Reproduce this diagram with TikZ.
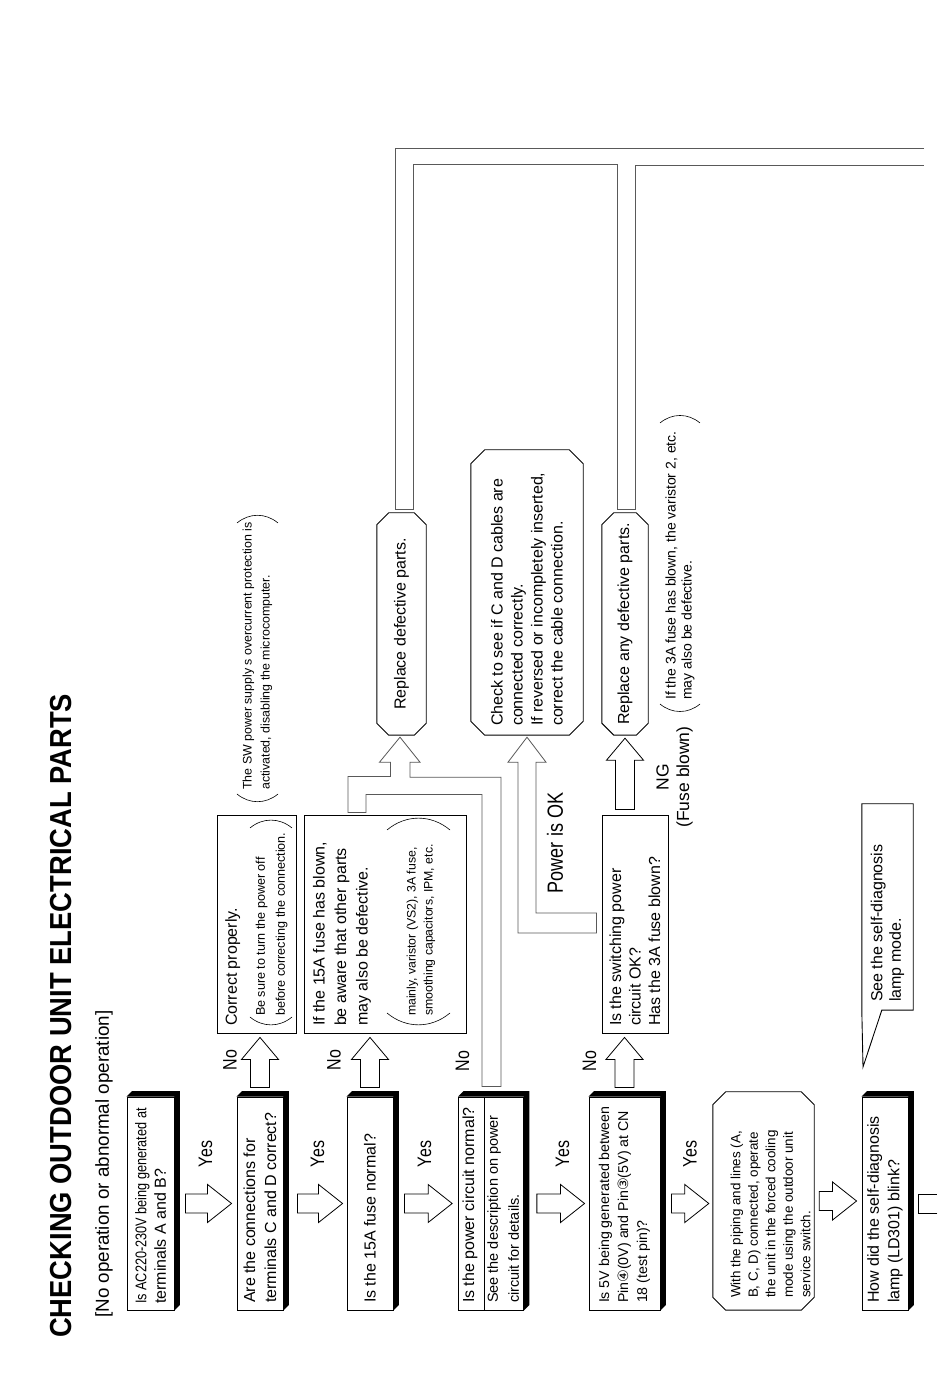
\documentclass[tikz,border=0pt]{standalone}
\usepackage{fontspec}
\setmainfont{Liberation Sans}
\newfontfamily\narrowfont[FakeStretch=0.82]{Liberation Sans}
\newfontfamily\titlefont[FakeStretch=0.9]{Liberation Sans}
\newfontfamily\circfont{DejaVu Sans}
\usetikzlibrary{shapes.multipart,calc,positioning}
\newcommand\fsz[2]{\fontsize{#1}{#2}\selectfont}
\newcommand\oneline[1]{\mbox{#1}}
\tikzset{
  qbox/.style={draw, fill=white, rotate=90, line width=.9pt, minimum width=213pt, inner xsep=7pt, inner ysep=0pt, align=flush left, text width=199pt, font=\fsz{16}{21}},
  abox/.style={draw, fill=white, rotate=90, line width=.9pt, minimum width=218pt, inner xsep=7pt, inner ysep=0pt, align=flush left, text width=204pt, font=\fsz{16}{21.5}},
  obox/.style={rotate=90, inner xsep=9pt, inner ysep=0pt, font=\fsz{16}{20}},
  lbl/.style={rotate=90, inner sep=0pt, font=\narrowfont\fsz{19.5}{22}},
  note/.style={rotate=90, inner sep=0pt, align=flush left},
  hollow/.style={draw=black, fill=white, line width=.8pt, line join=miter},
  strip/.style={draw=black!65, line width=.8pt, line join=miter},
  parc/.style={line width=.6pt}
}
\newcommand\boxshadow[1]{\fill (#1.north east) -- ($(#1.north east)+(5.5,5.5)$) -- ($(#1.south east)+(5.5,5.5)$) -- ($(#1.south west)+(5.5,5.5)$) -- (#1.south west) -- (#1.south east) -- cycle;}
\newcommand\octo[2]{\draw[line width=.9pt] ($(#1.north west)+(#2,0)$) -- ($(#1.south west)+(-#2,0)$) -- ($(#1.south west)+(0,#2)$) -- ($(#1.south east)+(0,-#2)$) -- ($(#1.south east)+(-#2,0)$) -- ($(#1.north east)+(#2,0)$) -- ($(#1.north east)+(0,-#2)$) -- ($(#1.north west)+(0,#2)$) -- cycle;}
\newcommand\rightarr[2]{\draw[hollow] let \p1=#1, \p2=#2 in (\x1,\y1-9.5pt) -- (\x2-24pt,\y1-9.5pt) -- (\x2-24pt,\y1-19pt) -- (\x2,\y1) -- (\x2-24pt,\y1+19pt) -- (\x2-24pt,\y1+9.5pt) -- (\x1,\y1+9.5pt) -- cycle;}
\newcommand\uparr[2]{\draw[hollow] let \p1=#1, \p2=#2 in (\x1-9.5pt,\y1) -- (\x1-9.5pt,\y2-22pt) -- (\x1-18.5pt,\y2-22pt) -- (\x1,\y2) -- (\x1+18.5pt,\y2-22pt) -- (\x1+9.5pt,\y2-22pt) -- (\x1+9.5pt,\y1) -- cycle;}

\begin{document}
\begin{tikzpicture}[x=1pt,y=1pt]
\fill[white] (0,0) rectangle (950,1379);
\useasboundingbox (0,0) rectangle (950,1379);

\node[rotate=90, anchor=west, inner sep=0pt, font=\titlefont\bfseries\fsz{30.4}{34}] (title) at (61,41) {CHECKING OUTDOOR UNIT ELECTRICAL PARTS};
\node[rotate=90, anchor=west, inner sep=0pt, font=\fsz{18.8}{22}] (sub) at (104,61) {[No operation or abnormal operation]};

\node[qbox, minimum height=47pt, inner xsep=6pt, text width=201pt, font=\fsz{16}{19.5}] (qa) at (150.5,175.5) {\oneline{\narrowfont\fsz{15.5}{19.5}Is AC220-230V being generated at}\\terminals A and B?};
\node[qbox, minimum height=46pt] (qb) at (260,175.5) {Are the connections for\\\oneline{terminals C and D correct?}};
\node[qbox, minimum height=46pt] (qc) at (370,175.5) {Is the 15A fuse normal?};
\node[qbox, rectangle split, rectangle split parts=2, inner ysep=1pt] (qd) at (491,175.5) {\rule[-9pt]{0pt}{23pt}\oneline{Is the power circuit normal?}\nodepart{two}\fsz{14.5}{17}\rule{0pt}{12pt}\oneline{See the description on power}\\circuit for details.\rule[-3pt]{0pt}{0pt}};
\node[qbox, minimum height=71pt, font=\fsz{14.2}{19}] (qe) at (624.5,175.5) {\oneline{Is 5V being generated between}\\\oneline{Pin{\circfont ④}(0V) and Pin{\circfont ③}(5V) at CN}\\18 (test pin)?};
\node[obox, minimum width=218pt, minimum height=101pt, inner xsep=12pt, text width=194pt, align=flush left, font=\fsz{13.4}{17.5}] (qf) at (763.5,178) {\rule{0pt}{24pt}With the piping and lines (A,\\\oneline{B, C, D) connected, operate}\\\oneline{the unit in the forced cooling}\\mode using the outdoor unit\\service switch.};
\node[qbox, minimum height=46pt, font=\fsz{16}{20.5}] (qg) at (885,175.5) {How did the self-diagnosis\\lamp (LD301) blink?};
\boxshadow{qa}
\boxshadow{qb}
\boxshadow{qc}
\boxshadow{qd}
\boxshadow{qe}
\boxshadow{qg}
\octo{qf}{13}

\node[abox, minimum height=79pt, font=\fsz{16}{20}] (nb) at (256.5,455) {Correct properly.\\[8pt]{\fsz{12.6}{20}\hspace*{10pt}Be sure to turn the power off\\\hspace*{10pt}\oneline{before correcting the connection.}}};
\node[abox, minimum height=162pt] (nc) at (385,455) {\oneline{If the 15A fuse has blown,}\\\oneline{be aware that other parts}\\may also be defective.\\[26.5pt]{\fsz{12.3}{21.5}\hspace*{10pt}\oneline{mainly, varistor (VS2), 3A fuse,}\\[-4.5pt]\hspace*{10pt}\oneline{smoothing capacitors, IPM, etc.}}\\[3pt]\mbox{}};
\node[abox, minimum height=66pt, font=\fsz{16}{19.5}] (ne) at (635,455) {Is the switching power\\circuit OK?\\\oneline{Has the 3A fuse blown?}};
\node[obox, minimum width=206pt, minimum height=51pt, inner xsep=8pt, text width=190pt, align=flush left, font=\fsz{16}{18.5}] (lamp) at (887.5,472) {See the self-diagnosis\\lamp mode.};
\coordinate (lamptip) at (863,312);
\draw[line width=.9pt] (lamp.north west) -- (lamptip) -- ($(lamp.north west)+(20,0)$) -- (lamp.south west) -- (lamp.south east) -- (lamp.north east) -- cycle;

\node[obox, minimum width=222pt, minimum height=49pt, align=center] (r1) at (401.5,755) {Replace defective parts.};
\node[obox, minimum width=285pt, minimum height=112pt, text width=267pt, align=flush left] (chk) at (527,786.5) {\oneline{Check to see if C and D cables are}\\connected correctly.\\\oneline{If reversed or incompletely inserted,}\\correct the cable connection.};
\node[obox, minimum width=222pt, minimum height=46pt, align=center] (r2) at (625,755) {Replace any defective parts.};
\octo{r1}{12}
\octo{chk}{14}
\octo{r2}{12}

\node[note, anchor=west, font=\fsz{12.4}{18}] (swnote) at (257.5,589) {The SW power supply s overcurrent protection is\\activated, disabling the microcomputer.};
\node[note, anchor=west, font=\fsz{14}{16}] (fusenote) at (680,679) {If the 3A fuse has blown, the varistor 2, etc.\\may also be defective.};
\draw[parc] (250,362) to[bend right=40] (292,362);
\draw[parc] (250,551) to[bend left=40] (292,551);
\draw[parc] (387,366) to[bend right=40] (450,366);
\draw[parc] (387,549) to[bend left=40] (450,549);
\draw[parc] (237,585) to[bend right=40] (278,585);
\draw[parc] (237,856) to[bend left=40] (278,856);
\draw[parc] (660,675) to[bend right=40] (700,675);
\draw[parc] (660,956) to[bend left=40] (700,956);

\rightarr{($(qa.south)+(11,0)$)}{($(qb.north)+(-5,0)$)}
\rightarr{($(qb.south)+(14,0)$)}{($(qc.north)+(-4,0)$)}
\rightarr{($(qc.south)+(11,0)$)}{($(qd.north)+(-6,0)$)}
\rightarr{($(qd.south)+(13,0)$)}{($(qe.north)+(-4,0)$)}
\rightarr{($(qe.south)+(11,0)$)}{($(qf.north)+(-4,0)$)}
\rightarr{($(qf.south)+(5,0)$)}{($(qg.north)+(-5,0)$)}
\draw[hollow, fill=none] ($(qg.south)+(29,-9.5)$) -- ++(-19,0) -- ++(0,19) -- ++(19,0);
\uparr{($(qb.east)+(0,9)$)}{($(nb.west)+(0,-4)$)}
\uparr{($(qc.east)+(0,9)$)}{($(nc.west)+(0,-4)$)}
\uparr{($(qe.east)+(0,9)$)}{($(ne.west)+(0,-4)$)}
\uparr{($(r2.west |- ne.east)+(0,5)$)}{($(r2.west)+(0,-3)$)}

\coordinate (m1) at ($(nc.east)+(-37,2)$);
\coordinate (m2) at ($(nc.east)+(-19,2)$);
\coordinate (m3) at ($(qd.east)+(-9,10)$);
\coordinate (m4) at ($(qd.east)+(10,10)$);
\coordinate (mt) at ($(r1.west)+(-1.5,-2)$);
\draw[strip] (m1) -- ++(0,36) -| ($(mt)+(-9.5,-25)$) -- ++(-11,0) -- (mt) -- ++(20,-25) -- ++(-10,0) -- ++(0,-15) -| (m4) -- (m3) |- ($(m2)+(0,18)$) -- (m2) -- cycle;

\coordinate (p1) at ($(ne.north)+(-5,-9)$);
\coordinate (pt) at ($(chk.west)+(0,-2)$);
\draw[strip] (p1) -| ($(pt)+(-9,-25)$) -- ++(-10,0) -- (pt) -- ++(19,-25) -- ++(-10,0) |- ($(p1)+(0,20)$) -- cycle;

\coordinate (t1) at ($(r1.east)+(-6.5,3)$);
\coordinate (t2) at ($(r2.east)+(-8,3)$);
\coordinate (tend1) at (924,1231);
\coordinate (tend2) at (924,1214);
\draw[strip] (tend1) -| (t1) -- ++(18,0) |- ($(t2)+(0,345)$) -- (t2) -- ++(18,0) |- (tend2);

\node[lbl] (yes1) at (205.5,225) {Yes};
\node[lbl] (yes2) at (317.5,225) {Yes};
\node[lbl] (yes3) at (424.5,225) {Yes};
\node[lbl] (yes4) at (562.5,225) {Yes};
\node[lbl] (yes5) at (690,225) {Yes};
\node[lbl] (no1) at (230,319) {No};
\node[lbl] (no2) at (334,319) {No};
\node[lbl] (no3) at (462.5,318) {No};
\node[lbl] (no4) at (589.5,318) {No};
\node[lbl, font=\narrowfont\fsz{22}{24}] (pok) at (555,536) {Power is OK};
\node[lbl, align=center, font=\fsz{17.5}{20.5}] (ng) at (674.5,602) {NG\\(Fuse blown)};
\end{tikzpicture}
\end{document}
